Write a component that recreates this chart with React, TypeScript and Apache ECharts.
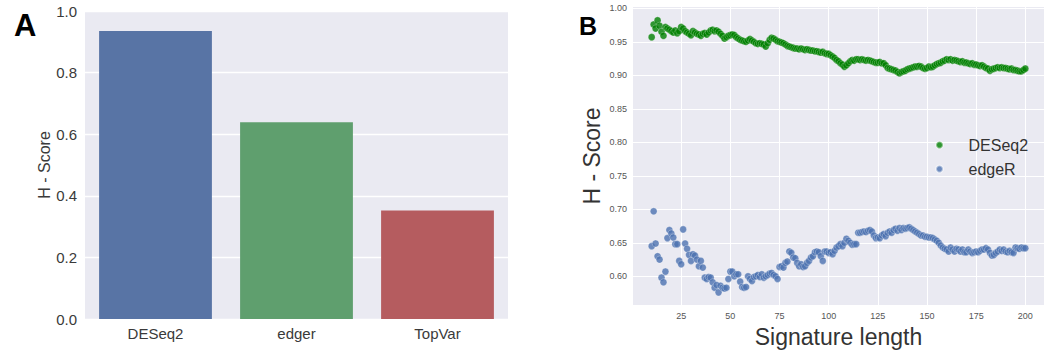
import React, { useEffect, useRef } from "react";
import * as echarts from "echarts";

// Panel A
const methodsA = ["DESeq2", "edger", "TopVar"];
const scoresA = [0.935, 0.639, 0.352];
const barColors = ["#5874a5", "#5f9f6e", "#b55c5f"];

// Panel B: signature lengths 10..200
const firstLength = 10;
const deseq2Scores = [
  0.957, 0.976, 0.970, 0.982, 0.974, 0.965, 0.959, 0.972, 0.970, 0.968,
  0.966, 0.964, 0.967, 0.963, 0.966, 0.972, 0.970, 0.966, 0.964, 0.962,
  0.960, 0.966, 0.964, 0.962, 0.961, 0.959, 0.962, 0.963, 0.961, 0.964,
  0.967, 0.968, 0.966, 0.967, 0.965, 0.962, 0.959, 0.955, 0.957, 0.959,
  0.960, 0.961, 0.960, 0.957, 0.955, 0.953, 0.952, 0.951, 0.950, 0.952,
  0.954, 0.952, 0.950, 0.948, 0.947, 0.948, 0.947, 0.946, 0.943, 0.948,
  0.953, 0.956, 0.955, 0.953, 0.951, 0.950, 0.949, 0.948, 0.946, 0.944,
  0.943, 0.942, 0.941, 0.940, 0.940, 0.939, 0.940, 0.939, 0.938, 0.939,
  0.938, 0.937, 0.937, 0.936, 0.936, 0.935, 0.934, 0.935, 0.933, 0.932,
  0.932, 0.930, 0.928, 0.926, 0.923, 0.921, 0.918, 0.916, 0.913, 0.915,
  0.918, 0.921, 0.923, 0.922, 0.924, 0.924, 0.923, 0.924, 0.923, 0.922,
  0.923, 0.922, 0.921, 0.920, 0.919, 0.919, 0.920, 0.918, 0.918, 0.915,
  0.911, 0.910, 0.909, 0.908, 0.907, 0.905, 0.903, 0.905, 0.906, 0.907,
  0.909, 0.910, 0.911, 0.912, 0.913, 0.913, 0.914, 0.913, 0.911, 0.910,
  0.911, 0.913, 0.912, 0.913, 0.915, 0.917, 0.918, 0.919, 0.921, 0.922,
  0.924, 0.923, 0.924, 0.922, 0.923, 0.922, 0.921, 0.920, 0.921, 0.919,
  0.919, 0.918, 0.917, 0.918, 0.916, 0.916, 0.915, 0.914, 0.915, 0.913,
  0.911, 0.910, 0.907, 0.909, 0.910, 0.911, 0.912, 0.911, 0.912, 0.911,
  0.911, 0.910, 0.909, 0.910, 0.908, 0.908, 0.907, 0.906, 0.906, 0.908,
  0.910,
];
const edgeRScores = [
  0.645, 0.697, 0.649, 0.630, 0.625, 0.598, 0.591, 0.607, 0.657, 0.669,
  0.664, 0.658, 0.648, 0.648, 0.623, 0.618, 0.670, 0.649, 0.641, 0.632,
  0.623, 0.633, 0.631, 0.625, 0.615, 0.623, 0.613, 0.598, 0.596, 0.599,
  0.598, 0.591, 0.583, 0.587, 0.576, 0.586, 0.583, 0.582, 0.583, 0.596,
  0.607, 0.607, 0.600, 0.603, 0.603, 0.592, 0.584, 0.583, 0.584, 0.600,
  0.596, 0.593, 0.599, 0.600, 0.602, 0.599, 0.603, 0.598, 0.600, 0.602,
  0.604, 0.605, 0.602, 0.600, 0.596, 0.614, 0.615, 0.613, 0.620, 0.622,
  0.637, 0.635, 0.628, 0.627, 0.620, 0.615, 0.618, 0.614, 0.615, 0.620,
  0.623, 0.628, 0.630, 0.636, 0.637, 0.636, 0.630, 0.623, 0.637, 0.637,
  0.635, 0.636, 0.633, 0.638, 0.643, 0.645, 0.648, 0.645, 0.650, 0.656,
  0.653, 0.650, 0.647, 0.648, 0.648, 0.665, 0.665, 0.666, 0.667, 0.666,
  0.668, 0.669, 0.667, 0.661, 0.657, 0.658, 0.657, 0.661, 0.663, 0.660,
  0.665, 0.667, 0.665, 0.669, 0.671, 0.668, 0.672, 0.669, 0.672, 0.671,
  0.672, 0.673, 0.671, 0.669, 0.667, 0.665, 0.663, 0.661, 0.661, 0.659,
  0.659, 0.658, 0.658, 0.657, 0.655, 0.653, 0.650, 0.646, 0.643, 0.641,
  0.640, 0.637, 0.643, 0.640, 0.637, 0.641, 0.640, 0.637, 0.640, 0.636,
  0.636, 0.640, 0.637, 0.635, 0.636, 0.637, 0.636, 0.638, 0.640, 0.640,
  0.642, 0.640, 0.635, 0.631, 0.632, 0.635, 0.637, 0.640, 0.638, 0.640,
  0.637, 0.636, 0.638, 0.636, 0.635, 0.643, 0.642, 0.641, 0.643, 0.642,
  0.642,
];

const FONT = "Liberation Sans, Arial, sans-serif";

export default function App() {
  const ref = useRef<HTMLDivElement>(null);
  useEffect(() => {
    if (!ref.current) return;
    const chart = echarts.init(ref.current, undefined, { renderer: "svg" });
    const deseqData = deseq2Scores.map((v, i) => [firstLength + i, v]);
    const edgeData = edgeRScores.map((v, i) => [firstLength + i, v]);
    const option: any = {
      animation: false,
      backgroundColor: "#ffffff",
      textStyle: { fontFamily: FONT },
      grid: [
        { left: 85, top: 11, width: 423, height: 308, show: true, backgroundColor: "#eaeaf2", borderWidth: 0 },
        { left: 633, top: 7, width: 411, height: 301, show: true, backgroundColor: "#eaeaf2", borderWidth: 0 },
      ],
      xAxis: [
        {
          gridIndex: 0,
          type: "category",
          data: methodsA,
          axisLine: { show: false },
          axisTick: { show: false },
          axisLabel: { fontSize: 15, color: "#3a3a3a", margin: 7, fontFamily: FONT },
          splitLine: { show: false },
        },
        {
          gridIndex: 1,
          type: "value",
          min: 0.5,
          max: 209.5,
          minInterval: 25,
          maxInterval: 25,
          splitNumber: 8,
          axisLine: { show: false },
          axisTick: { show: false },
          axisLabel: { fontSize: 9, color: "#555555", margin: 6, showMinLabel: false, showMaxLabel: false, fontFamily: FONT },
          splitLine: { show: true, showMinLine: false, showMaxLine: false, lineStyle: { color: "#ffffff", width: 1 } },
          name: "Signature length",
          nameLocation: "middle",
          nameGap: 17,
          nameTextStyle: { fontSize: 23, color: "#333333", fontFamily: FONT },
        },
      ],
      yAxis: [
        {
          gridIndex: 0,
          type: "value",
          min: 0,
          max: 1,
          interval: 0.2,
          axisLine: { show: false },
          axisTick: { show: false },
          axisLabel: { fontSize: 15, color: "#3a3a3a", margin: 8, fontFamily: FONT, formatter: (v: number) => v.toFixed(1) },
          splitLine: { show: true, lineStyle: { color: "#ffffff", width: 1.3 } },
          name: "H - Score",
          nameLocation: "middle",
          nameGap: 33,
          nameTextStyle: { fontSize: 16, color: "#3a3a3a", fontFamily: FONT },
        },
        {
          gridIndex: 1,
          type: "value",
          min: 0.557,
          max: 1.002,
          minInterval: 0.05,
          maxInterval: 0.05,
          splitNumber: 9,
          axisLine: { show: false },
          axisTick: { show: false },
          axisLabel: {
            fontSize: 9,
            color: "#555555",
            margin: 6,
            showMinLabel: false,
            showMaxLabel: false,
            fontFamily: FONT,
            formatter: (v: number) => v.toFixed(2),
          },
          splitLine: { show: true, showMinLine: false, showMaxLine: false, lineStyle: { color: "#ffffff", width: 1 } },
          name: "H - Score",
          nameLocation: "middle",
          nameGap: 30,
          nameTextStyle: { fontSize: 23, color: "#333333", fontFamily: FONT },
        },
      ],
      legend: {
        data: ["DESeq2", "edgeR"],
        orient: "vertical",
        left: 930,
        top: 132,
        itemWidth: 48,
        itemHeight: 7,
        itemGap: 8,
        icon: "circle",
        textStyle: { fontSize: 16, color: "#333333", lineHeight: 16, fontFamily: FONT },
      },
      series: [
        {
          type: "bar",
          xAxisIndex: 0,
          yAxisIndex: 0,
          barWidth: "80%",
          data: scoresA.map((v, i) => ({ value: v, itemStyle: { color: barColors[i] } })),
        },
        {
          name: "DESeq2",
          type: "scatter",
          xAxisIndex: 1,
          yAxisIndex: 1,
          symbolSize: 7,
          itemStyle: { color: "#008000", borderColor: "rgba(255,255,255,0.5)", borderWidth: 0.6 },
          data: deseqData,
        },
        {
          name: "edgeR",
          type: "scatter",
          xAxisIndex: 1,
          yAxisIndex: 1,
          symbolSize: 7,
          itemStyle: { color: "#4c72b0", borderColor: "rgba(255,255,255,0.6)", borderWidth: 0.6 },
          data: edgeData,
        },
      ],
      graphic: [
        {
          type: "text",
          x: 14,
          y: 25,
          style: { text: "A", font: "bold 31px " + FONT, fill: "#000000", verticalAlign: "middle" },
        },
        {
          type: "text",
          x: 579,
          y: 26,
          style: { text: "B", font: "bold 25px " + FONT, fill: "#000000", verticalAlign: "middle" },
        },
      ],
    };
    chart.setOption(option);
    return () => chart.dispose();
  }, []);
  return (
    <div
      ref={ref}
      style={{ position: "absolute", left: 0, top: 0, width: 1047, height: 353 }}
    />
  );
}
